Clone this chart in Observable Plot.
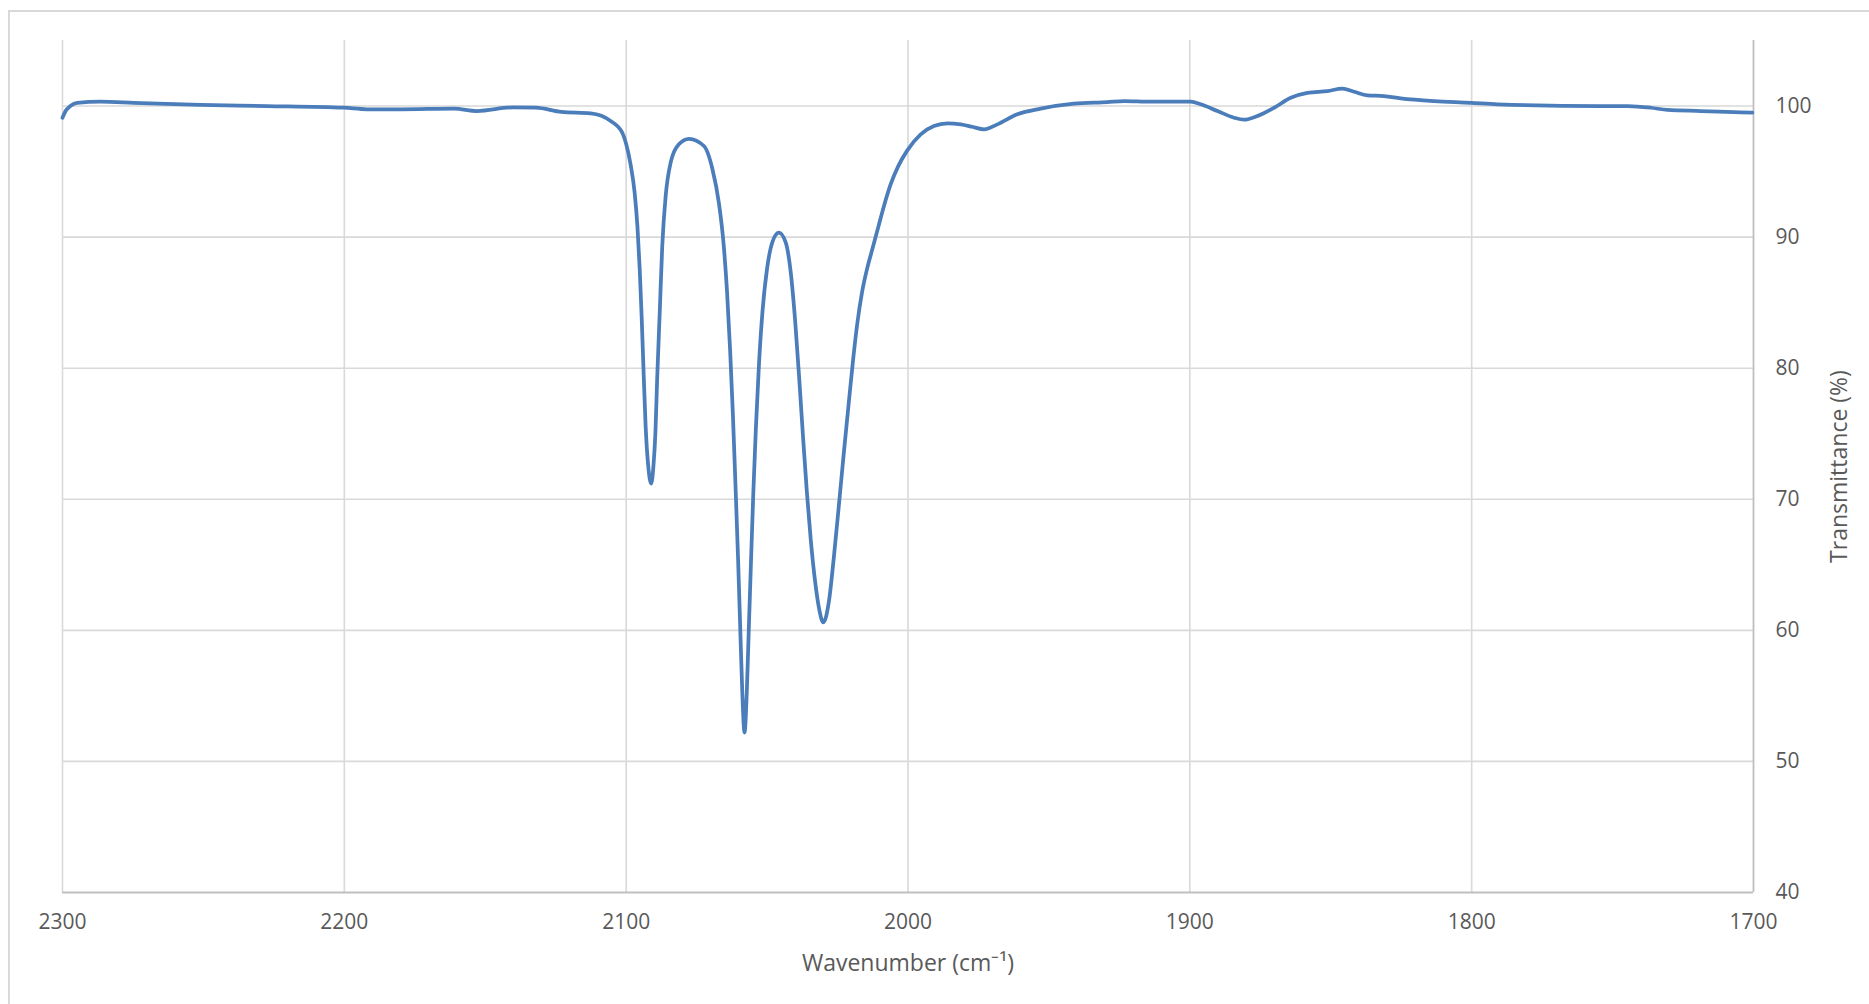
<!DOCTYPE html>
<html>
<head>
<meta charset="utf-8">
<script src="https://cdn.jsdelivr.net/npm/d3@7"></script>
<script src="https://cdn.jsdelivr.net/npm/@observablehq/plot@0.6"></script>
<style>
  html, body { margin: 0; padding: 0; background: #ffffff; overflow: hidden; }
  #frame {
    position: absolute; left: 8px; top: 10px; width: 1900px; height: 1100px;
    border: 2px solid #d9d9d9; box-sizing: border-box;
  }
  #chart { position: absolute; left: 0; top: 0; }
</style>
</head>
<body>
<div id="frame"></div>
<div id="chart"></div>
<script>
// IR spectrum: wavenumber (cm⁻¹) and transmittance (%), high to low wavenumber
const wavenumber = [
  2300, 2298.9, 2297.2, 2294.8, 2286.5, 2274.7, 2251, 2227.4, 2200.2, 2191.9,
  2180, 2161, 2153, 2140, 2132, 2123, 2112.6, 2105.5, 2101.4, 2100.0,
  2098.4, 2097.0, 2096.0, 2095.2, 2094.5, 2093.8, 2093.1, 2092.2, 2091.1, 2090.3,
  2089.6, 2089.0, 2088.1, 2087.2, 2086.0, 2084.2, 2081.3, 2077.7, 2072.4, 2069.4,
  2067.1, 2065.4, 2064.2, 2063.1, 2062.1, 2061.2, 2060.3, 2059.5, 2058.8, 2058.0,
  2057.2, 2056.5, 2055.7, 2054.9, 2054.0, 2052.9, 2051.6, 2050.0, 2048.0, 2045.8,
  2043.4, 2041.6, 2040.0, 2038.5, 2037.2, 2035.9, 2034.5, 2033.0, 2031.5, 2030.05,
  2028.0, 2026.3, 2024.5, 2022.7, 2021.0, 2019.5, 2018.0, 2016.3, 2014.5, 2012.5,
  2010.5, 2008.5, 2006.2, 2003.5, 2000.3, 1995.5, 1990.8, 1986.0, 1981.3, 1977.2,
  1973.0, 1968.3, 1961.2, 1952.9, 1941.1, 1929.3, 1923.3, 1913.9, 1899.7, 1896.1,
  1890.2, 1884.3, 1880.8, 1876.0, 1870.1, 1864.2, 1858.3, 1851.2, 1845.9, 1841.7,
  1837.0, 1831.1, 1825.2, 1813.3, 1800.3, 1790.8, 1754.2, 1744.7, 1736.4, 1730.5,
  1718.7, 1706.9, 1700.4
];
const transmittance = [
  99.1, 99.62, 100.0, 100.25, 100.33, 100.25, 100.08, 100.0, 99.87, 99.75,
  99.75, 99.8, 99.62, 99.9, 99.88, 99.55, 99.44, 98.86, 97.97, 97.1,
  95.5, 93.4, 90.8, 87.6, 83.9, 79.6, 75.6, 72.6, 71.2, 72.6,
  75.2, 79.2, 84.2, 89.3, 93.1, 95.7, 97.08, 97.5, 96.95, 95.2,
  92.6, 89.4, 85.8, 81.3, 76.3, 71.0, 65.5, 60.0, 55.3, 52.2,
  55.3, 60.0, 65.3, 70.4, 75.3, 80.2, 84.4, 87.6, 89.7, 90.34,
  89.6, 87.3, 83.5, 78.9, 74.6, 70.6, 66.9, 63.8, 61.6, 60.6,
  62.3, 65.6, 69.6, 73.7, 77.4, 80.6, 83.4, 85.8, 87.6, 89.2,
  90.8, 92.4, 94.0, 95.4, 96.6, 97.84, 98.47, 98.68, 98.6, 98.42,
  98.22, 98.6, 99.37, 99.8, 100.18, 100.3, 100.38, 100.33, 100.33, 100.13,
  99.62, 99.11, 98.96, 99.24, 99.87, 100.63, 101.0, 101.14, 101.32, 101.09,
  100.81, 100.76, 100.59, 100.38, 100.25, 100.13, 100.0, 100.0, 99.87, 99.7,
  99.62, 99.54, 99.49
];

const xTicks = [2300, 2200, 2100, 2000, 1900, 1800, 1700];
const yTicks = [40, 50, 60, 70, 80, 90, 100];
const xTitle = "Wavenumber (cm⁻¹)";
const yTitle = "Transmittance (%)";

const spectrum = wavenumber.map((w, i) => ({w, t: transmittance[i]}));

const gridColor = "#d9d9d9";
const axisColor = "#bfbfbf";
const textColor = "#595959";

const chart = Plot.plot({
  width: 1869,
  height: 1004,
  marginLeft: 62,
  marginRight: 116,
  marginTop: 40,
  marginBottom: 112,
  style: {fontFamily: "'Open Sans', sans-serif", fontSize: "21px", color: textColor, background: "transparent"},
  x: {domain: [2300, 1700]},
  y: {domain: [40, 105]},
  marks: [
    Plot.gridX(xTicks.filter(d => d !== 1700), {stroke: gridColor, strokeOpacity: 1, strokeWidth: 1.6}),
    Plot.gridY(yTicks.filter(d => d !== 40), {stroke: gridColor, strokeOpacity: 1, strokeWidth: 1.6}),
    Plot.ruleY([40], {stroke: axisColor, strokeWidth: 1.8}),
    Plot.ruleX([1700], {stroke: axisColor, strokeWidth: 1.8}),
    Plot.axisX({ticks: xTicks, tickSize: 0, tickPadding: 22, label: null, tickFormat: d => String(d), fontSize: 21}),
    Plot.axisY({anchor: "right", ticks: yTicks, tickSize: 0, tickPadding: 22, label: null, tickFormat: d => String(d), fontSize: 21}),
    Plot.line(spectrum, {x: "w", y: "t", stroke: "#4a7dba", strokeWidth: 3.75, curve: "monotone-x", strokeLinejoin: "round"}),
    Plot.text([xTitle], {frameAnchor: "bottom", dy: 71, lineAnchor: "middle", fontSize: 23, fill: textColor}),
    Plot.text([yTitle], {frameAnchor: "right", dx: 86, rotate: -90, lineAnchor: "middle", textAnchor: "middle", fontSize: 23, fill: textColor})
  ]
});

document.getElementById("chart").appendChild(chart);
</script>
</body>
</html>
